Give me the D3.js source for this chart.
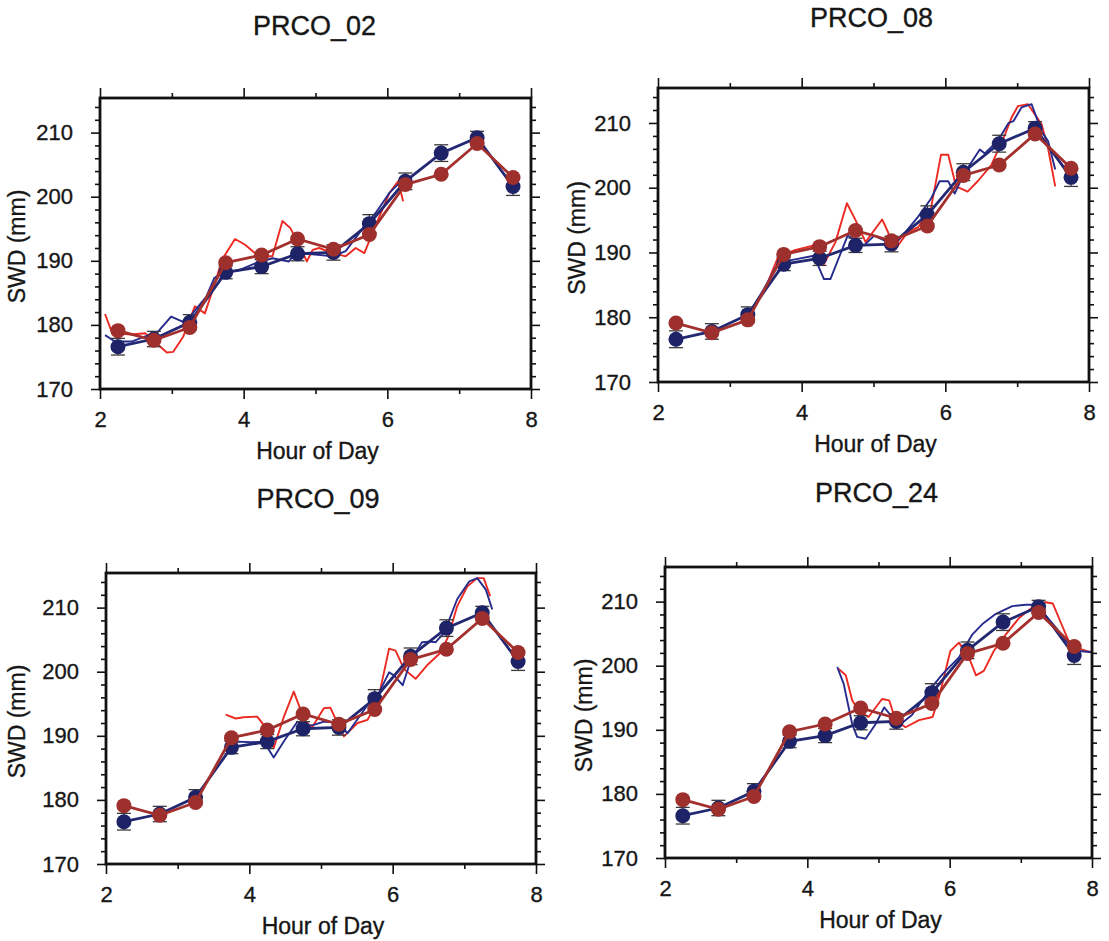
<!DOCTYPE html>
<html><head><meta charset="utf-8">
<script src="https://cdn.jsdelivr.net/npm/d3@7"></script>
<style>
body{margin:0;background:#fff}
svg{display:block}
text{font-family:"Liberation Sans",Arial,Helvetica,sans-serif;fill:#161616;stroke:#161616;stroke-width:0.35px}
</style>
</head><body>
<svg id="c" width="1109" height="941"></svg>
<script>
// ---------- data ----------
const stations = ["PRCO_02", "PRCO_08", "PRCO_09", "PRCO_24"];
const hours = [2.25, 2.75, 3.25, 3.75, 4.25, 4.75, 5.25, 5.75, 6.25, 6.75, 7.25, 7.75];
const blueAvg = [176.6, 177.8, 180.4, 188.2, 189.1, 191.1, 191.3, 195.8, 202.4, 206.8, 209.2, 201.6];
const blueErr = [1.3, 1.2, 1.2, 1.0, 1.1, 1.1, 1.2, 1.4, 1.3, 1.3, 1.0, 1.4];
const redAvg = [179.1, 177.6, 179.6, 189.7, 190.9, 193.4, 191.8, 194.1, 201.9, 203.5, 208.3, 203.0];
const xTickLabels = [2, 4, 6, 8];
const xMinorTicks = [3, 5, 7];
const yTickLabels = [170, 180, 190, 200, 210];
const yMinorTicks = [172, 174, 176, 178, 182, 184, 186, 188, 192, 194, 196, 198, 202, 204, 206, 208, 212, 214];

const redThin02 = [[2.07,181.7],[2.16,179.0],[2.30,178.6],[2.44,178.5],[2.63,178.7],[2.81,176.9],[2.93,175.7],[3.02,175.8],[3.16,178.2],[3.32,182.9],[3.46,181.8],[3.60,186.5],[3.70,190.2],[3.88,193.4],[4.02,192.5],[4.21,190.7],[4.40,190.7],[4.54,196.2],[4.65,195.1],[4.77,192.5],[4.88,189.9],[4.96,191.7],[5.05,192.0],[5.24,191.2],[5.42,190.7],[5.56,192.0],[5.68,191.2],[5.84,195.6],[6.03,200.6],[6.15,202.4],[6.22,199.3]];
const blueThin02 = [[2.07,178.4],[2.21,177.4],[2.44,177.4],[2.63,178.2],[2.79,178.7],[2.99,181.3],[3.15,180.5],[3.29,181.8],[3.48,184.4],[3.59,187.3],[3.73,188.3],[3.93,188.5],[4.16,189.6],[4.40,190.4],[4.63,189.9],[4.72,191.2],[4.96,191.0],[5.24,190.7],[5.42,191.5],[5.66,195.1],[5.84,197.5],[6.03,200.6],[6.19,202.4]];

const redThin08 = [[3.28,180.7],[3.47,183.8],[3.68,189.5],[3.89,190.3],[4.17,191.1],[4.31,188.2],[4.47,191.6],[4.63,197.6],[4.75,195.0],[4.89,191.6],[5.12,195.1],[5.20,193.2],[5.29,190.3],[5.48,193.2],[5.62,193.9],[5.80,196.8],[5.94,205.1],[6.04,205.1],[6.15,200.2],[6.31,199.4],[6.45,201.0],[6.64,203.5],[6.83,208.2],[6.92,210.8],[7.01,212.6],[7.15,212.9],[7.34,209.8],[7.43,206.1],[7.53,200.2]];
const blueThin08 = [[3.28,180.9],[3.47,184.3],[3.68,188.5],[3.89,188.9],[4.17,189.5],[4.31,185.9],[4.40,185.9],[4.64,192.6],[4.87,191.1],[5.01,192.6],[5.20,191.6],[5.29,191.1],[5.62,195.5],[5.80,198.3],[5.92,201.0],[6.04,201.0],[6.13,199.1],[6.25,202.0],[6.48,205.9],[6.55,205.3],[6.74,207.4],[6.88,210.0],[6.95,210.3],[7.06,212.4],[7.20,212.9],[7.34,208.7],[7.43,207.2],[7.53,202.8]];

const redThin09 = [[3.67,193.3],[3.81,192.7],[3.92,192.9],[4.11,193.0],[4.20,191.7],[4.34,188.1],[4.48,192.9],[4.62,196.9],[4.76,192.7],[4.87,191.2],[5.04,194.3],[5.13,194.4],[5.23,192.0],[5.32,189.9],[5.51,192.0],[5.65,192.5],[5.79,195.3],[5.95,203.6],[6.04,203.3],[6.16,200.4],[6.32,198.9],[6.48,201.0],[6.67,203.0],[6.78,205.6],[6.90,210.2],[7.04,213.3],[7.18,214.6],[7.27,214.6],[7.36,211.8]];
const blueThin09 = [[3.67,188.1],[3.84,189.1],[4.03,189.0],[4.20,189.1],[4.34,186.6],[4.48,189.1],[4.67,192.2],[4.76,191.5],[4.90,191.7],[5.04,192.2],[5.23,192.1],[5.37,190.4],[5.65,194.8],[5.79,196.3],[5.95,199.9],[6.02,199.4],[6.14,197.9],[6.25,201.7],[6.41,204.6],[6.51,204.7],[6.60,204.6],[6.72,206.1],[6.90,211.3],[7.07,214.1],[7.18,214.6],[7.30,212.8],[7.39,209.7]];

const redThin24 = [[4.44,199.5],[4.54,198.5],[4.63,194.6],[4.72,193.0],[4.86,192.0],[5.05,194.8],[5.15,194.6],[5.24,191.5],[5.38,190.4],[5.57,191.5],[5.76,192.0],[5.85,195.1],[6.01,202.3],[6.13,203.6],[6.27,201.3],[6.37,198.5],[6.48,199.2],[6.62,202.3],[6.79,204.9],[6.98,207.5],[7.16,209.1],[7.35,209.9],[7.45,209.7],[7.59,206.0],[7.70,203.1],[7.92,202.3],[8.0,202.1]];
const blueThin24 = [[4.42,199.8],[4.51,197.2],[4.63,190.9],[4.70,188.9],[4.82,188.6],[4.96,190.9],[5.08,193.5],[5.19,192.0],[5.29,190.7],[5.47,192.3],[5.71,196.1],[5.90,198.7],[6.13,201.3],[6.32,204.9],[6.46,206.5],[6.65,208.1],[6.88,209.3],[7.07,209.5],[7.21,209.5],[7.35,207.8],[7.49,206.0],[7.63,203.9],[7.82,202.3],[8.0,202.1]];

const redThin = [redThin02, redThin08, redThin09, redThin24];
const blueThin = [blueThin02, blueThin08, blueThin09, blueThin24];

// ---------- layout ----------
const layout = [
  {x:100, y:98,  w:431, h:291, tdx:-1, tdy:-63, ylx:-83},
  {x:658, y:88,  w:431, h:294, tdx:-2, tdy:-61, ylx:-81},
  {x:106, y:573, w:430, h:291, tdx:-3, tdy:-65, ylx:-89},
  {x:665, y:567, w:427, h:291, tdx:-2, tdy:-65, ylx:-81}
];
const C = {
  thinRed:"#ec2a22", thinBlue:"#262b8c",
  avgBlue:"#232873", avgRed:"#a3302d",
  dotBlue:"#1e2367", dotRed:"#9d2f2d", err:"#3a3a3a"
};

const svg = d3.select("#c");

stations.forEach((name, i) => {
  const L = layout[i];
  const g = svg.append("g").attr("transform", `translate(${L.x},${L.y})`);
  const x = d3.scaleLinear().domain([2, 8]).range([0, L.w]);
  const y = d3.scaleLinear().domain([170, 215.4]).range([L.h, 0]);

  const styleAxis = sel => {
    sel.select(".domain").remove();
    sel.selectAll(".tick line").attr("stroke", "#111").attr("stroke-width", 1.6);
  };
  const styleLabels = sel => sel.selectAll("text")
    .attr("font-size", 22).attr("fill", "#161616")
    .attr("font-family", '"Liberation Sans",Arial,sans-serif');

  // bottom axis
  g.append("g").attr("transform", `translate(0,${L.h})`)
    .call(d3.axisBottom(x).tickValues(xTickLabels).tickSize(10).tickPadding(12).tickFormat(d3.format("d")))
    .call(styleAxis).call(styleLabels);
  g.append("g").attr("transform", `translate(0,${L.h})`)
    .call(d3.axisBottom(x).tickValues(xMinorTicks).tickSize(5).tickFormat(""))
    .call(styleAxis);
  // top axis
  g.append("g")
    .call(d3.axisTop(x).tickValues(xTickLabels).tickSize(10).tickFormat(""))
    .call(styleAxis);
  g.append("g")
    .call(d3.axisTop(x).tickValues(xMinorTicks).tickSize(5).tickFormat(""))
    .call(styleAxis);
  // left axis
  g.append("g")
    .call(d3.axisLeft(y).tickValues(yTickLabels).tickSize(9).tickPadding(18).tickFormat(d3.format("d")))
    .call(styleAxis).call(styleLabels);
  g.append("g")
    .call(d3.axisLeft(y).tickValues(yMinorTicks).tickSize(5).tickFormat(""))
    .call(styleAxis);
  // right axis
  g.append("g").attr("transform", `translate(${L.w},0)`)
    .call(d3.axisRight(y).tickValues(yTickLabels).tickSize(9).tickFormat(""))
    .call(styleAxis);
  g.append("g").attr("transform", `translate(${L.w},0)`)
    .call(d3.axisRight(y).tickValues(yMinorTicks).tickSize(5).tickFormat(""))
    .call(styleAxis);

  const line = d3.line().x(d => x(d[0])).y(d => y(d[1]));

  // thin high-rate series
  g.append("path").datum(redThin[i]).attr("d", line)
    .attr("fill", "none").attr("stroke", C.thinRed).attr("stroke-width", 1.9).attr("stroke-linejoin", "round");
  g.append("path").datum(blueThin[i]).attr("d", line)
    .attr("fill", "none").attr("stroke", C.thinBlue).attr("stroke-width", 1.9).attr("stroke-linejoin", "round");

  const bluePts = hours.map((h, k) => [h, blueAvg[k], blueErr[k]]);
  const redPts = hours.map((h, k) => [h, redAvg[k]]);

  // error bars (blue)
  const eb = g.append("g").attr("stroke", C.err).attr("stroke-width", 1.3);
  bluePts.forEach(d => {
    eb.append("line").attr("x1", x(d[0])).attr("x2", x(d[0])).attr("y1", y(d[1] - d[2])).attr("y2", y(d[1] + d[2]));
    eb.append("line").attr("x1", x(d[0]) - 7).attr("x2", x(d[0]) + 7).attr("y1", y(d[1] - d[2])).attr("y2", y(d[1] - d[2]));
    eb.append("line").attr("x1", x(d[0]) - 7).attr("x2", x(d[0]) + 7).attr("y1", y(d[1] + d[2])).attr("y2", y(d[1] + d[2]));
  });

  // blue averaged series
  g.append("path").datum(bluePts).attr("d", line)
    .attr("fill", "none").attr("stroke", C.avgBlue).attr("stroke-width", 2.8);
  g.selectAll(".bd").data(bluePts).enter().append("circle")
    .attr("cx", d => x(d[0])).attr("cy", d => y(d[1])).attr("r", 7.5).attr("fill", C.dotBlue);

  // red averaged series
  g.append("path").datum(redPts).attr("d", line)
    .attr("fill", "none").attr("stroke", C.avgRed).attr("stroke-width", 2.8);
  g.selectAll(".rd").data(redPts).enter().append("circle")
    .attr("cx", d => x(d[0])).attr("cy", d => y(d[1])).attr("r", 7.5).attr("fill", C.dotRed);

  // frame
  g.append("rect").attr("width", L.w).attr("height", L.h)
    .attr("fill", "none").attr("stroke", "#111").attr("stroke-width", 2.8);

  // titles
  g.append("text").attr("x", L.w / 2 + L.tdx).attr("y", L.tdy)
    .attr("text-anchor", "middle").attr("font-size", 27).text(name);
  g.append("text").attr("x", L.w / 2 + 2).attr("y", L.h + 70)
    .attr("text-anchor", "middle").attr("font-size", 23).text("Hour of Day");
  g.append("text")
    .attr("transform", `translate(${L.ylx + 8},${L.h / 2 + 3}) rotate(-90)`)
    .attr("text-anchor", "middle").attr("font-size", 23).text("SWD (mm)");
});
</script>
</body></html>
